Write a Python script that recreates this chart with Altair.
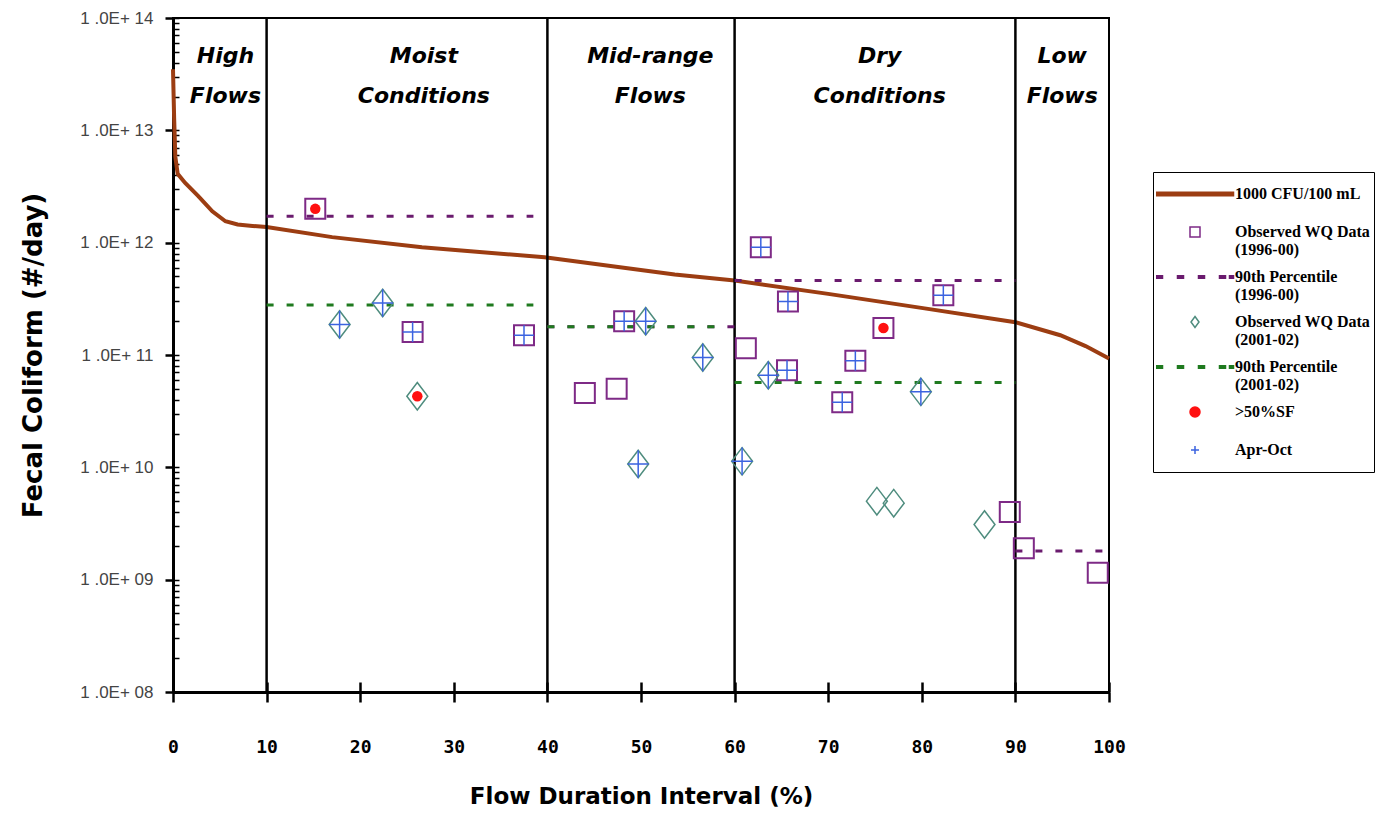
import altair as alt
import pandas as pd

# ---------------- data ----------------
# load-duration curve (1000 CFU/100 mL)
curve_x = [0, 0.12, 0.25, 0.5, 1.3, 2.7, 4.2, 5.6, 6.9, 8.5, 10, 17, 26.6, 39.7, 53.6, 60, 70, 80.3, 90, 94.8, 97.5, 100]
curve_y = [3.5e13, 1.3e13, 5.8e12, 4.1e12, 3.4e12, 2.6e12, 1.9e12, 1.55e12, 1.45e12, 1.41e12, 1.38e12,
           1.12e12, 9.1e11, 7.4e11, 5.2e11, 4.6e11, 3.5e11, 2.6e11, 1.96e11, 1.5e11, 1.2e11, 9.3e10]

# observed WQ data 1996-00 (squares)
sq_x = [15.2, 25.6, 37.5, 44.0, 47.4, 48.2, 61.2, 62.8, 65.7, 65.6, 71.5, 72.9, 75.9, 82.3, 89.4, 90.9, 98.8]
sq_y = [2.0e12, 1.6e11, 1.5e11, 4.6e10, 5.0e10, 2.0e11, 1.15e11, 9.1e11, 3.0e11, 7.3e10, 3.8e10, 8.9e10,
        1.74e11, 3.4e11, 4.0e9, 1.9e9, 1.15e9]
sq_apr = [0, 1, 1, 0, 0, 1, 0, 1, 1, 1, 1, 1, 0, 1, 0, 0, 0]
sq_sf = [1, 0, 0, 0, 0, 0, 0, 0, 0, 0, 0, 0, 1, 0, 0, 0, 0]

# observed WQ data 2001-02 (diamonds)
dm_x = [17.8, 22.4, 26.1, 49.7, 50.5, 56.6, 60.8, 63.6, 75.2, 77.0, 79.9, 86.7]
dm_y = [1.87e11, 2.9e11, 4.3e10, 1.07e10, 2.0e11, 9.5e10, 1.13e10, 6.6e10, 5.0e9, 4.8e9, 4.7e10, 3.1e9]
dm_apr = [1, 1, 0, 1, 1, 1, 1, 1, 0, 0, 1, 0]
dm_sf = [0, 0, 1, 0, 0, 0, 0, 0, 0, 0, 0, 0]

# 90th percentile segments
p96_x1 = [10, 40, 60, 90]
p96_x2 = [38.5, 60, 90, 100]
p96_y = [1.72e12, 1.78e11, 4.6e11, 1.8e9]
p01_x1 = [10, 40, 60]
p01_x2 = [38.5, 59, 90]
p01_y = [2.78e11, 1.78e11, 5.7e10]

# flow zones
zone_bounds = [10, 40, 60, 90]
zone_names = ["High|Flows", "Moist|Conditions", "Mid-range|Flows", "Dry|Conditions", "Low|Flows"]
zone_label_x = [5.6, 26.8, 51.0, 75.5, 95.0]
zone_label_y = [5.6e13] * 5

x_ticks = list(range(0, 101, 10))
y_major = [1e8, 1e9, 1e10, 1e11, 1e12, 1e13, 1e14]
y_minor = [m * 10.0 ** e for e in range(8, 14) for m in range(2, 10)]

legend_names = ["1000 CFU/100 mL", "Observed WQ Data|(1996-00)", "90th Percentile|(1996-00)",
                "Observed WQ Data|(2001-02)", "90th Percentile|(2001-02)", ">50%SF", "Apr-Oct"]

# ---------------- styles ----------------
BROWN = "#9C3D12"
PURPLE = "#7E2A86"
PURPLE_D = "#6A1B6E"
GREEN_D = "#1F7A1F"
TEAL = "#4E8C7E"
BLUE = "#3B63E0"
RED = "#FF1010"

LEG_LINE = "M-7.7,-0.35H7.7V0.35H-7.7Z"
LEG_DASH = ("M-7.7,-0.25H-6.5V0.25H-7.7Z M-3.5,-0.25H-2.3V0.25H-3.5Z M0.7,-0.25H1.9V0.25H0.7Z "
            "M4.9,-0.25H6.1V0.25H4.9Z M6.9,-0.25H7.7V0.25H6.9Z")
LEG_SQUARE = "M-1,-1H1V1H-1Z"
LEG_DIAMOND = "M0,-1.1L0.8,0L0,1.1L-0.8,0Z"
LEG_CROSS = "M-0.8,0H0.8M0,-0.8V0.8"
legend_fill = [BROWN, "transparent", PURPLE_D, "transparent", GREEN_D, RED, "transparent"]
legend_stroke = [BROWN, PURPLE, PURPLE_D, TEAL, GREEN_D, RED, BLUE]
legend_shape = [LEG_LINE, LEG_SQUARE, LEG_DASH, LEG_DIAMOND, LEG_DASH, "circle", LEG_CROSS]

DIAMOND = "M0,-1.25L0.95,0L0,1.25L-0.95,0Z"
SQ_CROSS = "M-1,0H1M0,-1V1"
DM_CROSS = "M-0.95,0H0.95M0,-1.25V1.25"

# ---------------- frames ----------------
curve_df = pd.DataFrame({"x": curve_x, "y": curve_y})
sq_df = pd.DataFrame({"x": sq_x, "y": sq_y, "apr": sq_apr, "sf": sq_sf})
dm_df = pd.DataFrame({"x": dm_x, "y": dm_y, "apr": dm_apr, "sf": dm_sf})
p96_df = pd.DataFrame({"x1": p96_x1, "x2": p96_x2, "y": p96_y})
p01_df = pd.DataFrame({"x1": p01_x1, "x2": p01_x2, "y": p01_y})
zone_df = pd.DataFrame({"x": zone_bounds})
zlab_df = pd.DataFrame({"x": zone_label_x, "y": zone_label_y, "name": zone_names})
sf_df = pd.concat([sq_df[sq_df.sf == 1], dm_df[dm_df.sf == 1]])
legend_df = pd.DataFrame({"series": legend_names})

X = alt.Scale(domain=[0, 100], nice=False, zero=False)
Y = alt.Scale(type="log", domain=[1e8, 1e14], nice=False)

main_x_axis = alt.Axis(values=x_ticks, title="Flow Duration Interval (%)", orient="bottom",
                       tickSize=10, tickWidth=2.5, tickColor="black", domainColor="black", domainWidth=3,
                       labelFont="DejaVu Sans Mono", labelFontWeight="bold", labelFontSize=18,
                       labelColor="black", labelPadding=36, labelFlush=False, labelOverlap=False, grid=False,
                       titleFont="DejaVu Sans", titleFontWeight="bold", titleFontSize=23, titleColor="black",
                       titleX=468, titleY=104, titleAlign="center", titleBaseline="middle")

main_y_axis = alt.Axis(values=y_major, orient="left",
                       labelExpr="'1 .0E+ ' + (round(log(datum.value)/LN10) < 10 ? '0' : '') + round(log(datum.value)/LN10)",
                       tickSize=8, tickWidth=2.5, tickColor="black", domainColor="black", domainWidth=3,
                       labelFont="Liberation Sans", labelFontSize=17, labelColor="#444444", labelPadding=12,
                       labelFlush=False, labelOverlap=False, grid=False,
                       title="Fecal Coliform (#/day)", titleFont="DejaVu Sans", titleFontWeight="bold",
                       titleFontSize=26, titleColor="black", titleAngle=-90, titleX=-140, titleY=337,
                       titleAlign="center", titleBaseline="middle")

inner_x_axis = alt.Axis(values=x_ticks, orient="bottom", offset=-10, tickSize=10, tickWidth=2.5,
                        tickColor="black", labels=False, domain=False, title=None, grid=False)
inner_y_axis = alt.Axis(values=y_major + y_minor, orient="left", offset=-6, tickSize=6, tickWidth=1.5,
                        tickColor="black", labels=False, domain=False, title=None, grid=False)

curve = alt.Chart(curve_df).mark_line(color=BROWN, strokeWidth=4).encode(
    x=alt.X("x:Q", scale=X, axis=main_x_axis),
    y=alt.Y("y:Q", scale=Y, axis=main_y_axis),
)

zones = alt.Chart(zone_df).mark_rule(color="black", strokeWidth=2.5).encode(
    x=alt.X("x:Q", scale=X, axis=inner_x_axis),
)

p96 = alt.Chart(p96_df).mark_rule(color=PURPLE_D, strokeWidth=3, strokeDash=[7, 13]).encode(
    x=alt.X("x1:Q", scale=X, axis=None), x2="x2:Q",
    y=alt.Y("y:Q", scale=Y, axis=inner_y_axis),
)
p01 = alt.Chart(p01_df).mark_rule(color=GREEN_D, strokeWidth=3, strokeDash=[7, 13]).encode(
    x=alt.X("x1:Q", scale=X, axis=None), x2="x2:Q",
    y=alt.Y("y:Q", scale=Y, axis=None),
)

squares = alt.Chart(sq_df).mark_point(shape="square", size=400, color=PURPLE, strokeWidth=2,
                                      filled=False, opacity=1).encode(
    x=alt.X("x:Q", scale=X, axis=None), y=alt.Y("y:Q", scale=Y, axis=None))
diamonds = alt.Chart(dm_df).mark_point(shape=DIAMOND, size=484, color=TEAL, strokeWidth=1.5,
                                       filled=False, opacity=1).encode(
    x=alt.X("x:Q", scale=X, axis=None), y=alt.Y("y:Q", scale=Y, axis=None))
sq_cross = alt.Chart(sq_df).transform_filter("datum.apr == 1").mark_point(
    shape=SQ_CROSS, size=400, color=BLUE, strokeWidth=1.5, filled=False, opacity=1).encode(
    x=alt.X("x:Q", scale=X, axis=None), y=alt.Y("y:Q", scale=Y, axis=None))
dm_cross = alt.Chart(dm_df).transform_filter("datum.apr == 1").mark_point(
    shape=DM_CROSS, size=484, color=BLUE, strokeWidth=1.5, filled=False, opacity=1).encode(
    x=alt.X("x:Q", scale=X, axis=None), y=alt.Y("y:Q", scale=Y, axis=None))
reds = alt.Chart(sf_df).mark_circle(size=110, color=RED, opacity=1).encode(
    x=alt.X("x:Q", scale=X, axis=None), y=alt.Y("y:Q", scale=Y, axis=None))

zone_text = alt.Chart(zlab_df).transform_calculate(lines="split(datum.name, '|')").mark_text(
    font="DejaVu Sans", fontStyle="italic", fontWeight="bold", fontSize=22, lineHeight=40,
    baseline="top", align="center", color="black").encode(
    x=alt.X("x:Q", scale=X, axis=None), y=alt.Y("y:Q", scale=Y, axis=None), text="lines:N")

leg = alt.Legend(title=None, orient="none", legendX=980, legendY=154,
                 labelExpr="split(datum.label, '|')", labelFont="Liberation Serif", labelFontWeight="bold",
                 labelFontSize=16, labelColor="black", labelLimit=400, labelOffset=32, symbolOffset=31,
                 symbolSize=100, symbolStrokeWidth=1.5, strokeColor="black", fillColor="white",
                 padding=3, rowPadding=0, clipHeight=38)

legend_layer = alt.Chart(legend_df).mark_point(filled=True, size=100, opacity=1, strokeWidth=1.5,
                                               clip=True).encode(
    x=alt.value(-3000), y=alt.value(-3000),
    fill=alt.Fill("series:N", scale=alt.Scale(domain=legend_names, range=legend_fill), legend=leg),
    stroke=alt.Stroke("series:N", scale=alt.Scale(domain=legend_names, range=legend_stroke), legend=leg),
    shape=alt.Shape("series:N", scale=alt.Scale(domain=legend_names, range=legend_shape), legend=leg),
)

chart = alt.layer(
    curve, zones, p96, p01, squares, diamonds, sq_cross, dm_cross, reds, zone_text, legend_layer
).resolve_axis(x="independent", y="independent").properties(
    width=936, height=674,
    padding={"left": 165, "top": 10, "right": 280, "bottom": 121},
    autosize=alt.AutoSizeParams(type="none"),
    background="white",
).configure_view(stroke="black", strokeWidth=2)

chart.save("out.html", embed_options={"renderer": "svg", "actions": False})
